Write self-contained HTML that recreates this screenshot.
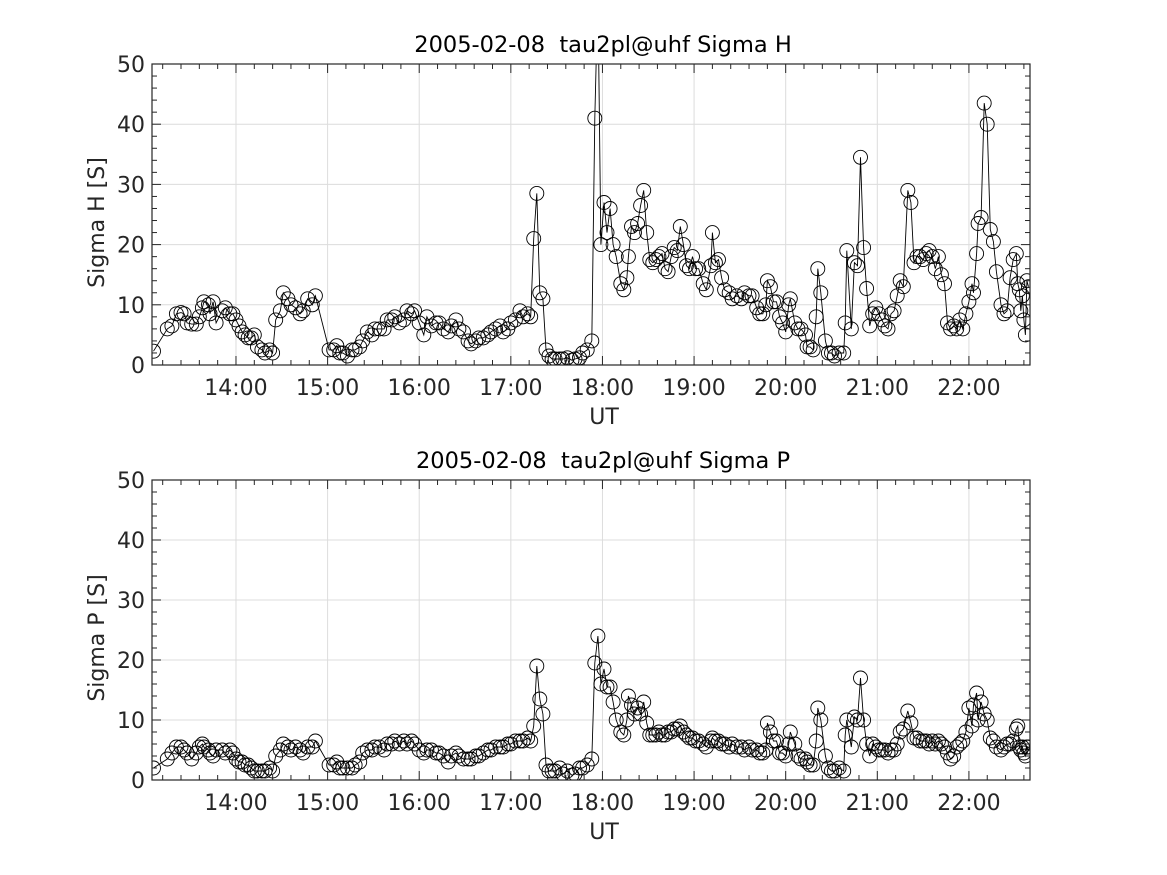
<!DOCTYPE html>
<html><head><meta charset="utf-8">
<style>
html,body{margin:0;padding:0;background:#fff;}
svg{display:block;font-family:"DejaVu Sans","Liberation Sans",sans-serif;}
text{white-space:pre;}
</style></head>
<body>
<svg id="fig" width="1167" height="875" viewBox="0 0 1167 875" xmlns="http://www.w3.org/2000/svg"></svg>
<script>
// minutes after 13:09 UT
const times=[-3,6,9,12,15,17,19,22,25,27,29,30,33,34,36,38,42,44,47,49,51,53,55,57,59,61,63,65,68,70,73,75,77,80,82,85,87,90,93,95,98,101,103,112,115,117,119,121,124,127,129,132,134,137,140,142,145,148,150,153,155,158,161,163,166,168,171,174,176,179,182,184,187,190,192,195,197,200,203,205,208,210,213,216,218,221,224,226,229,231,234,237,239,242,244,246,248,250,252,254,256,258,260,263,265,268,271,273,276,278,281,284,286,288,290,292,294,296,298,300,303,305,307,308,310,312,314,316,318,320,322,324,326,328,330,332,334,336,338,340,342,344,346,348,350,352,354,357,359,362,363,365,367,369,371,374,376,379,382,384,387,389,392,394,396,398,399,401,403,405,407,409,411,413,414,417,419,421,424,425,427,429,431,432,434,437,439,441,443,446,449,450,451,454,456,458,460,462,464,466,468,470,472,474,476,478,480,482,484,486,488,491,493,495,497,499,501,503,505,507,509,511,513,515,517,519,521,523,525,527,529,531,533,534,536,537,539,541,543,545,547,549,552,554,556,558,560,562,563,564,565,566,567,568,569,570];
const sigmaH=[2.3,6,6.5,8.5,8.7,8.5,7,6.8,6.8,8,9.5,10.5,10,8.5,10.5,7,9,9.5,8.5,8.5,7.5,6.5,5.5,5,4.5,4.5,5,3,2.5,2,2.5,2,7.5,9,12,11,10,9.5,8.5,9,11,10,11.5,2.5,2.5,3.2,2,2,1.5,2.5,2.5,3,4,5.5,5,6,6,6,7.5,7.5,8,7,7.5,9,8.5,9,7,5,8,6.5,7,7,6,5.5,6.5,7.5,6,5.5,4,3.5,4,4.5,4.5,5,5.5,6,6.5,5.5,6,7,7.5,9,8,8.5,8,21,28.5,12,11,2.5,1.5,1,1,1,1,1.2,0.8,1,1.2,2,2.5,4,41,62,20,27,22,26,20,18,13.5,12.5,14.5,18,23,22,23.5,26.5,29,22,17.5,17,17.5,18,18.5,16,15.5,18,19.5,19,23,20,16.5,16,18,16,16,13.5,12.5,16.5,22,17,17.5,14.5,12.5,12,11,11.5,11,12,11.5,11.5,9.5,8.5,8.5,10,14,13,10.5,10.5,8,7,5.5,10,11,7,6,6,5,3,3,2.5,8,16,12,4,2,2,1.5,2,2,7,19,6,17,16.5,34.5,19.5,12.7,6.5,8.5,9.5,8.5,7.5,6.5,6,8.5,9,11.5,14,13,29,27,17,18,18,17.5,18.5,19,18,16,18,15,13.5,7,6,6.5,6,7.5,6,8.5,10.5,13.5,12,18.5,23.5,24.5,43.5,40,22.5,20.5,15.5,10,8.5,9,14.5,17.5,18.5,13.5,12.5,9,11.5,7.5,5,14,13];
const sigmaP=[2,3.5,4.5,5.5,5.5,5,4.5,3.5,4.5,5.5,6,5.5,5,4.5,4,5,5,4.5,5,4.5,3.5,3,3,2.5,2.5,2,1.5,1.5,1.5,1.5,2,1.5,4,5,6,5.5,5,5.5,5,4.5,5.5,5.5,6.5,2.5,2.5,3,2,2,2,2,2.5,3,4.5,5,5,5.5,5.5,5,6,6,6.5,6,6.5,6,6.5,6,5,4.5,5,5,4.5,4.5,4,3,4,4.5,4,3.5,3.5,3.5,4,4,4.5,5,5,5.5,5.5,5.5,6,6,6.5,6.5,6.5,7,6.5,9,19,13.5,11,2.5,1.5,1.5,1.5,2,1,1.5,0.8,1,2,2,2.5,3.5,19.5,24,16,18.5,15.5,15.5,13,10,8,7.5,10,14,12.5,11,12,11,13,9.5,7.5,7.5,7.5,8,7.5,7.5,8,8,8.5,8.5,9,8,7.5,7,7,6.5,6.5,6,5.5,6.5,7,6.5,6.5,6,6,5.5,6,5.5,5.5,5,5.5,5,5,4.5,4.5,5,9.5,8,6.5,6.5,4.5,4.5,4,6,8,6,4,3.5,3.5,3,2.5,2.5,6.5,12,10,4,2,1.5,1.5,2,1.5,7.5,10,5.5,10.5,10,17,10,6,4,6,5.5,5,5,5,4.5,5,5,6,8,8.5,11.5,9.5,7,7,6.5,6.5,6.5,6,6.5,6,6.5,6,5.5,4.5,3.5,4,5.5,6,6.5,8,12,9,12.5,14.5,10,13,11,10,7,6.5,5.5,5,5.5,6,6,6.5,8.5,9,5.5,5,5.5,4.5,4,5.5,5.5];
const xTickLabels=["14:00","15:00","16:00","17:00","18:00","19:00","20:00","21:00","22:00"];
const yTickLabels=["0","10","20","30","40","50"];

const NS="http://www.w3.org/2000/svg";
const svg=document.getElementById('fig');
function mk(tag,attrs,parent){const e=document.createElementNS(NS,tag);for(const k in attrs)e.setAttribute(k,attrs[k]);(parent||svg).appendChild(e);return e;}
const X0=152,X1=1030;
const T0=13*60+5, T1=22*60+40;
const BASE=13*60+9;
function xs(clockMin){return X0+(clockMin-T0)/(T1-T0)*(X1-X0);}

function panel(idx,top,bottom,title,ylab,vals,name){
  const g=mk('g',{});
  
  
  const ys=v=>bottom-v/50*(bottom-top);
  for(let h=14;h<=22;h++){const x=xs(h*60);const l=mk('line',{x1:x,x2:x,y1:top,y2:bottom,stroke:'#dcdcdc','stroke-width':1},g);
    }
  for(let v=10;v<50;v+=10){const y=ys(v);const l=mk('line',{x1:X0,x2:X1,y1:y,y2:y,stroke:'#dcdcdc','stroke-width':1},g);
    }
  const clipId='clip'+idx;
  const cp=mk('clipPath',{id:clipId},g);mk('rect',{x:X0,y:top,width:X1-X0,height:bottom-top},cp);
  const dg=mk('g',{'clip-path':'url(#'+clipId+')'},g);
  
  const pts=times.map((t,i)=>xs(BASE+t).toFixed(1)+','+ys(vals[i]).toFixed(1)).join(' ');
  const pl=mk('polyline',{points:pts,fill:'none',stroke:'#000','stroke-width':0.9},dg);
  
  times.forEach((t,i)=>{const c=mk('circle',{cx:xs(BASE+t).toFixed(1),cy:ys(vals[i]).toFixed(1),r:7,fill:'none',stroke:'#000','stroke-width':0.9},dg);
    });
  const b=mk('rect',{x:X0,y:top,width:X1-X0,height:bottom-top,fill:'none',stroke:'#262626','stroke-width':1.2},g);
  
  for(let m=T0;m<=T1;m++){
    if(m%12!==0)continue;const x=xs(m);const major=m%60===0;const len=major?9:5;
    mk('line',{x1:x,x2:x,y1:bottom,y2:bottom-len,stroke:'#262626','stroke-width':1},g);
    mk('line',{x1:x,x2:x,y1:top,y2:top+len,stroke:'#262626','stroke-width':1},g);
  }
  xTickLabels.forEach((s,i)=>{const t=mk('text',{x:xs((14+i)*60),y:bottom+30,'text-anchor':'middle','font-size':22,fill:'#262626'},g);t.textContent=s;
    });
  for(let v=0;v<=50;v+=2){const y=ys(v);const len=v%10===0?9:5;
    mk('line',{x1:X0,x2:X0+len,y1:y,y2:y,stroke:'#262626','stroke-width':1},g);
    mk('line',{x1:X1,x2:X1-len,y1:y,y2:y,stroke:'#262626','stroke-width':1},g);}
  yTickLabels.forEach((s,i)=>{const t=mk('text',{x:X0-7,y:ys(i*10)+8,'text-anchor':'end','font-size':22,fill:'#262626'},g);t.textContent=s;
    });
  const tt=mk('text',{x:(X0+X1)/2+12,y:top-12,'text-anchor':'middle','font-size':22.5,fill:'#000'},g);tt.textContent=title;
  
  const xl=mk('text',{x:(X0+X1)/2+13,y:bottom+59,'text-anchor':'middle','font-size':22,fill:'#262626'},g);xl.textContent='UT';
  
  const cy=(top+bottom)/2+8;
  const yl=mk('text',{x:104,y:cy,'text-anchor':'middle','font-size':22,fill:'#262626',transform:'rotate(-90 104 '+cy+')'},g);yl.textContent=ylab;
  
}
panel(1,64,365,'2005-02-08  tau2pl@uhf Sigma H','Sigma H [S]',sigmaH,'sigma-h-chart');
panel(2,480,780,'2005-02-08  tau2pl@uhf Sigma P','Sigma P [S]',sigmaP,'sigma-p-chart');
</script>
</body></html>
